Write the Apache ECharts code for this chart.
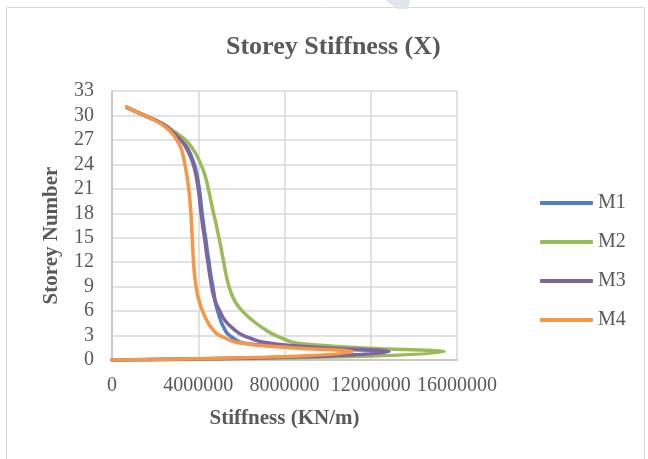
<!DOCTYPE html>
<html>
<head>
<meta charset="utf-8">
<style>
  html, body { margin: 0; padding: 0; background: #ffffff; }
  #chart { width: 648px; height: 459px; }
</style>
<script src="https://cdn.jsdelivr.net/npm/echarts@6/dist/echarts.min.js"></script>
</head>
<body>
<div id="chart"></div>
<script>
// Storey levels (ground = 0, roof = 31)
const storeys = [0, 1, 2, 3, 4, 5, 6, 7, 8, 9, 10, 11, 12, 13, 14, 15,
                 16, 17, 18, 19, 20, 21, 22, 23, 24, 25, 26, 27, 28, 29, 30, 31];

// Storey stiffness in X direction (KN/m), listed from storey 0 upwards
const stiffM1 = [0, 12750000, 6300000, 5450000, 5180000, 5020000, 4900000, 4800000,
                 4740000, 4680000, 4610000, 4550000, 4500000, 4440000, 4390000, 4340000,
                 4280000, 4230000, 4180000, 4140000, 4100000, 4050000, 3990000, 3920000,
                 3820000, 3680000, 3500000, 3220000, 2840000, 2320000, 1500000, 680000];
const stiffM2 = [0, 15400000, 8800000, 7600000, 6950000, 6450000, 6050000, 5750000,
                 5560000, 5430000, 5330000, 5250000, 5180000, 5110000, 5040000, 4960000,
                 4880000, 4800000, 4710000, 4630000, 4550000, 4470000, 4380000, 4270000,
                 4120000, 3950000, 3720000, 3400000, 2900000, 2340000, 1500000, 680000];
const stiffM3 = [0, 12850000, 7500000, 6100000, 5550000, 5200000, 5000000, 4820000,
                 4700000, 4620000, 4560000, 4500000, 4450000, 4390000, 4340000, 4290000,
                 4230000, 4180000, 4130000, 4090000, 4050000, 4000000, 3940000, 3870000,
                 3770000, 3630000, 3450000, 3180000, 2800000, 2310000, 1500000, 680000];
const stiffM4 = [0, 11150000, 6200000, 5000000, 4600000, 4370000, 4200000, 4070000,
                 3970000, 3900000, 3850000, 3810000, 3780000, 3760000, 3740000, 3720000,
                 3700000, 3680000, 3660000, 3630000, 3600000, 3560000, 3510000, 3450000,
                 3380000, 3300000, 3200000, 3000000, 2720000, 2250000, 1500000, 680000];

const seriesNames = ['M1', 'M2', 'M3', 'M4'];
const seriesColors = ['#4f81bd', '#9bbb59', '#8064a2', '#f79646'];
const seriesValues = [stiffM1, stiffM2, stiffM3, stiffM4];

const xTicks = [0, 4000000, 8000000, 12000000, 16000000];
const yTicks = [0, 3, 6, 9, 12, 15, 18, 21, 24, 27, 30, 33];

const serif = '"Liberation Serif", "Times New Roman", serif';
const textGrey = '#595959';

const chart = echarts.init(document.getElementById('chart'), null, { renderer: 'canvas' });

const series = seriesNames.map((name, i) => ({
  name: name,
  type: 'line',
  data: seriesValues[i].map((v, k) => [v, storeys[k]]),
  symbol: 'none',
  showSymbol: false,
  smooth: 0.5,
  color: seriesColors[i],
  lineStyle: { width: 3.5, color: seriesColors[i], cap: 'round', join: 'round' },
  emphasis: { disabled: true }
}));

chart.setOption({
  animation: false,
  backgroundColor: '#ffffff',
  title: {
    text: 'Storey Stiffness (X)',
    left: 221,
    top: 29,
    textStyle: { fontFamily: serif, fontSize: 26, fontWeight: 'bold', color: textGrey }
  },
  graphic: [
    {
      type: 'rect',
      shape: { x: 6.5, y: 7.5, width: 638, height: 470 },
      style: { fill: 'none', stroke: '#d9d9d9', lineWidth: 1 },
      silent: true
    },
    {
      type: 'polygon',
      shape: { points: [[385, 0], [410, 0], [408, 9], [398, 9]] },
      style: { fill: '#dfe5ea' },
      silent: true
    }
  ],
  legend: {
    orient: 'vertical',
    left: 540,
    top: 193,
    padding: 0,
    itemGap: 19,
    itemWidth: 53,
    itemHeight: 4,
    icon: 'roundRect',
    data: seriesNames,
    textStyle: { fontFamily: serif, fontSize: 20, color: textGrey, lineHeight: 20 }
  },
  grid: { left: 112, top: 91, width: 345, height: 269 },
  xAxis: {
    type: 'value',
    min: xTicks[0],
    max: xTicks[xTicks.length - 1],
    interval: xTicks[1] - xTicks[0],
    name: 'Stiffness (KN/m)',
    nameLocation: 'middle',
    nameGap: 48,
    nameTextStyle: { fontFamily: serif, fontSize: 21, fontWeight: 'bold', color: textGrey },
    axisLine: { show: true, lineStyle: { color: '#bfbfbf', width: 1.5 } },
    axisTick: { show: false },
    axisLabel: {
      margin: 16,
      fontFamily: serif, fontSize: 20, color: textGrey,
      formatter: v => String(v)
    },
    splitLine: { show: true, lineStyle: { color: '#d9d9d9', width: 1.5 } }
  },
  yAxis: {
    type: 'value',
    min: yTicks[0],
    max: yTicks[yTicks.length - 1],
    interval: yTicks[1] - yTicks[0],
    name: 'Storey Number',
    nameLocation: 'middle',
    nameGap: 50,
    nameRotate: 90,
    nameTextStyle: {
      fontFamily: serif, fontSize: 21, fontWeight: 'bold', color: textGrey,
      padding: [0, 20, 0, 0]
    },
    axisLine: { show: true, lineStyle: { color: '#bfbfbf', width: 1.5 } },
    axisTick: { show: false },
    axisLabel: { margin: 18, fontFamily: serif, fontSize: 20, color: textGrey },
    splitLine: { show: true, lineStyle: { color: '#d9d9d9', width: 1.5 } }
  },
  series: series
});
</script>
</body>
</html>
